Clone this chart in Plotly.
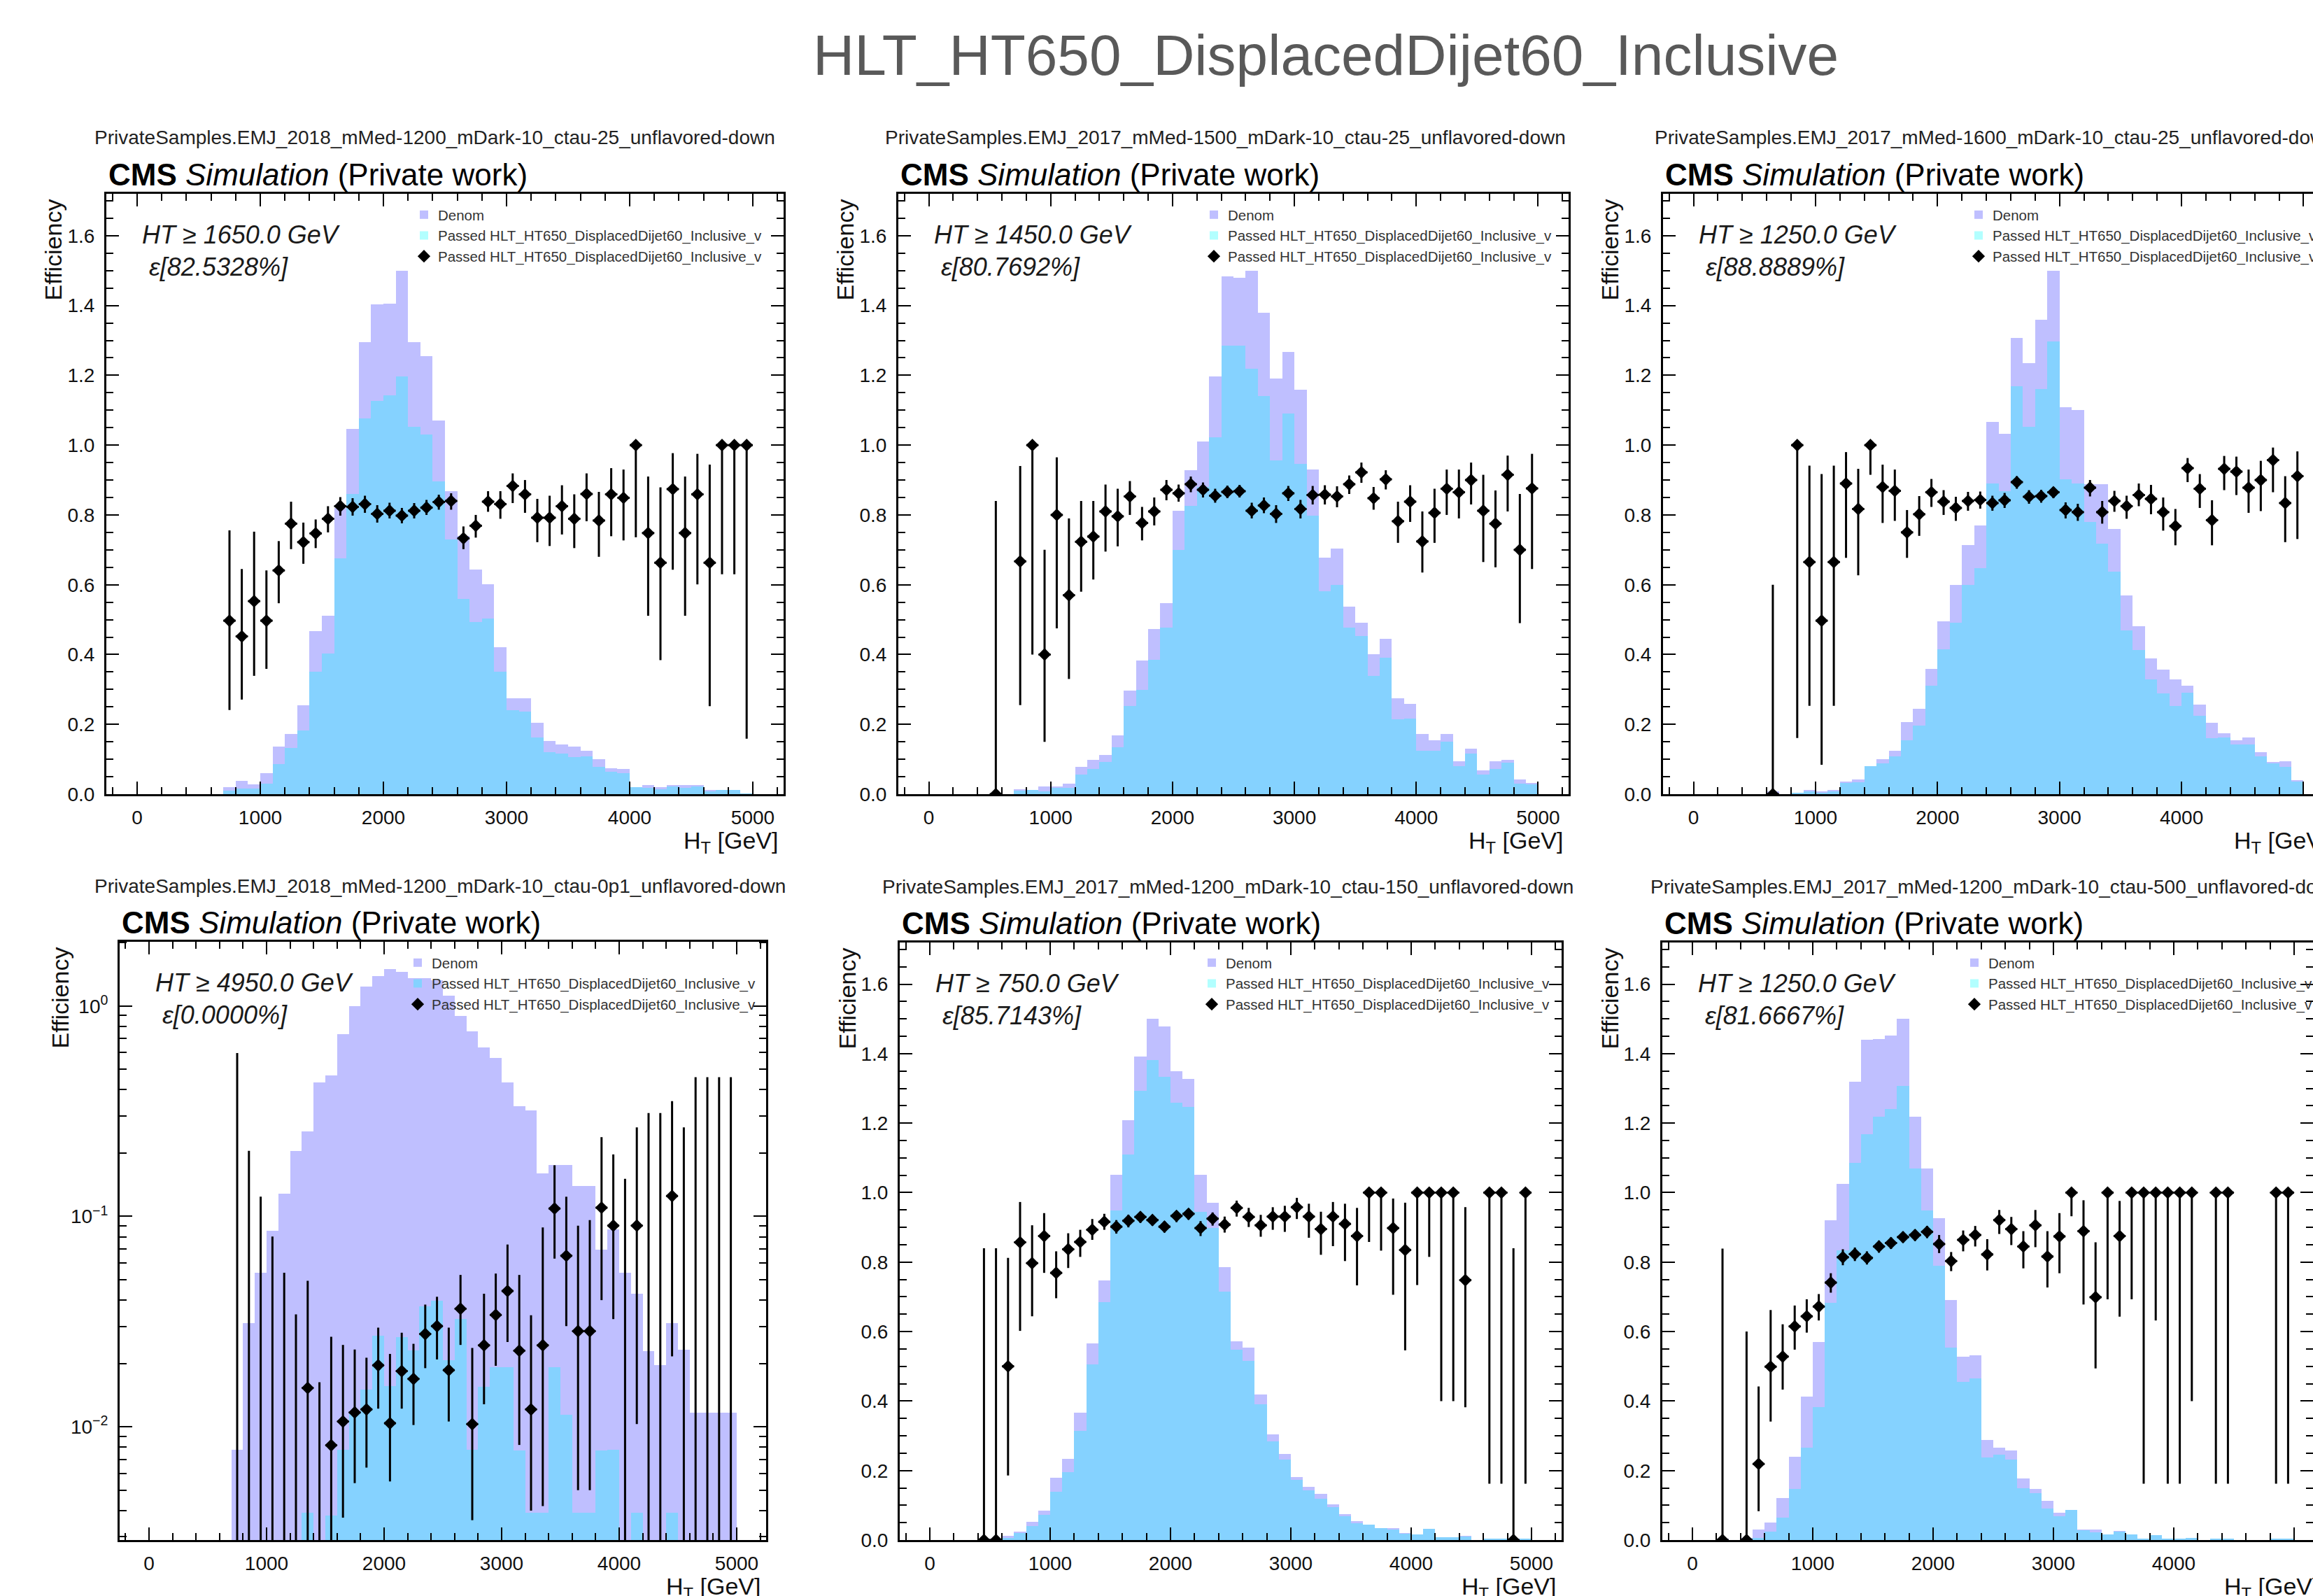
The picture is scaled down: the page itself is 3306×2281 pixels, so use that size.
import plotly.graph_objects as go

W, H = 3306, 2281
FONT = "Liberation Sans, Arial, Helvetica, sans-serif"

# ------------------------------------------------------------------ data
TITLE = "HLT_HT650_DisplacedDijet60_Inclusive"
TRIGGER_LABEL = "Passed HLT_HT650_DisplacedDijet60_Inclusive_v"
SAMPLE_NAMES = [
    "PrivateSamples.EMJ_2018_mMed-1200_mDark-10_ctau-25_unflavored-down",
    "PrivateSamples.EMJ_2017_mMed-1500_mDark-10_ctau-25_unflavored-down",
    "PrivateSamples.EMJ_2017_mMed-1600_mDark-10_ctau-25_unflavored-down",
    "PrivateSamples.EMJ_2018_mMed-1200_mDark-10_ctau-0p1_unflavored-down",
    "PrivateSamples.EMJ_2017_mMed-1200_mDark-10_ctau-150_unflavored-down",
    "PrivateSamples.EMJ_2017_mMed-1200_mDark-10_ctau-500_unflavored-down",
]
HT_THRESHOLDS = [1650.0, 1450.0, 1250.0, 4950.0, 750.0, 1250.0]
TOTAL_EFF = [82.5328, 80.7692, 88.8889, 0.0000, 85.7143, 81.6667]

# HT bins: 50 bins of 100 GeV from 0 to 5000 (bin centres)
BIN_CENTERS = [50, 150, 250, 350, 450, 550, 650, 750, 850, 950,
               1050, 1150, 1250, 1350, 1450, 1550, 1650, 1750, 1850, 1950,
               2050, 2150, 2250, 2350, 2450, 2550, 2650, 2750, 2850, 2950,
               3050, 3150, 3250, 3350, 3450, 3550, 3650, 3750, 3850, 3950,
               4050, 4150, 4250, 4350, 4450, 4550, 4650, 4750, 4850, 4950]
X_TICKS = [0, 1000, 2000, 3000, 4000, 5000]

DENOM_1 = [0, 0, 0, 0, 0, 0, 0, 0.021, 0.038, 0.029,
           0.061, 0.136, 0.172, 0.254, 0.468, 0.511, 0.82, 1.046, 1.296, 1.403,
           1.406, 1.5, 1.296, 1.254, 1.07, 0.868, 0.74, 0.643, 0.601, 0.421,
           0.275, 0.275, 0.204, 0.153, 0.142, 0.136, 0.125, 0.1, 0.074, 0.072,
           0.021, 0.026, 0.021, 0.026, 0.026, 0.026, 0.012, 0.012, 0.012, 0.003]
PASSED_1 = [0, 0, 0, 0, 0, 0, 0, 0.011, 0.017, 0.016,
            0.03, 0.087, 0.133, 0.183, 0.35, 0.403, 0.676, 0.861, 1.077, 1.127,
            1.142, 1.197, 1.052, 1.03, 0.896, 0.729, 0.56, 0.494, 0.504, 0.35,
            0.24, 0.236, 0.162, 0.121, 0.117, 0.107, 0.108, 0.078, 0.064, 0.061,
            0.021, 0.019, 0.014, 0.023, 0.019, 0.022, 0.008, 0.012, 0.012, 0.003]

DENOM_2 = [0, 0, 0, 0, 0, 0.003, 0, 0.015, 0.012, 0.023,
           0.023, 0.031, 0.078, 0.098, 0.113, 0.169, 0.296, 0.383, 0.474, 0.547,
           0.811, 0.929, 1.01, 1.197, 1.484, 1.479, 1.5, 1.379, 1.191, 1.266,
           1.159, 0.93, 0.677, 0.704, 0.537, 0.491, 0.4, 0.445, 0.274, 0.259,
           0.173, 0.155, 0.173, 0.094, 0.13, 0.069, 0.094, 0.098, 0.043, 0.032]
PASSED_2 = [0, 0, 0, 0, 0, 0, 0, 0.01, 0.012, 0.009,
            0.018, 0.018, 0.056, 0.072, 0.092, 0.135, 0.252, 0.298, 0.384, 0.477,
            0.699, 0.825, 0.881, 1.023, 1.285, 1.284, 1.218, 1.14, 0.956, 1.091,
            0.947, 0.797, 0.581, 0.6, 0.477, 0.453, 0.339, 0.39, 0.214, 0.217,
            0.125, 0.125, 0.151, 0.081, 0.117, 0.056, 0.073, 0.09, 0.03, 0.028]

DENOM_3 = [0, 0, 0, 0, 0, 0, 0.008, 0, 0.004, 0.012,
           0.008, 0.012, 0.037, 0.043, 0.081, 0.101, 0.124, 0.207, 0.244, 0.359,
           0.495, 0.6, 0.713, 0.769, 1.067, 1.032, 1.308, 1.235, 1.36, 1.5,
           1.108, 1.101, 0.888, 0.888, 0.759, 0.57, 0.481, 0.389, 0.357, 0.328,
           0.311, 0.257, 0.204, 0.175, 0.155, 0.163, 0.121, 0.092, 0.094, 0.04]
PASSED_3 = [0, 0, 0, 0, 0, 0, 0, 0, 0.004, 0.008,
            0.004, 0.008, 0.033, 0.035, 0.081, 0.089, 0.108, 0.155, 0.196, 0.311,
            0.415, 0.492, 0.599, 0.648, 0.89, 0.869, 1.169, 1.052, 1.161, 1.298,
            0.902, 0.89, 0.78, 0.717, 0.638, 0.47, 0.412, 0.329, 0.288, 0.252,
            0.29, 0.225, 0.16, 0.163, 0.143, 0.143, 0.109, 0.088, 0.078, 0.036]

DENOM_4 = [0, 0, 0, 0, 0, 0, 0, 0.0078, 0.0312, 0.054,
           0.0857, 0.128, 0.205, 0.254, 0.434, 0.466, 0.735, 1.0, 1.235, 1.39,
           1.5, 1.45, 1.36, 1.36, 1.32, 1.12, 0.896, 0.755, 0.634, 0.565,
           0.434, 0.335, 0.32, 0.16, 0.176, 0.176, 0.139, 0.139, 0.0695, 0.0865,
           0.0538, 0.0428, 0.0229, 0.0196, 0.031, 0.0232, 0.0117, 0.0117, 0.0117, 0.0117]
PASSED_4 = [0, 0, 0, 0, 0, 0, 0, 0, 0, 0,
            0, 0, 0, 0.0039, 0, 0.0038, 0.0078, 0.0117, 0.015, 0.027,
            0.0156, 0.0267, 0.023, 0.0375, 0.0397, 0.0208, 0.0326, 0.0078, 0.0155, 0.0192,
            0.0192, 0.0077, 0.0039, 0.0039, 0.0192, 0.0114, 0.0039, 0.0039, 0.0077, 0.0078,
            0, 0.0039, 0, 0, 0.0039, 0, 0, 0, 0, 0]

DENOM_5 = [0, 0, 0, 0, 0.004, 0.004, 0.013, 0.024, 0.052, 0.084,
           0.18, 0.234, 0.367, 0.566, 0.748, 1.052, 1.208, 1.391, 1.5, 1.479,
           1.349, 1.328, 1.051, 0.971, 0.786, 0.573, 0.554, 0.419, 0.304, 0.248,
           0.182, 0.154, 0.133, 0.102, 0.075, 0.055, 0.044, 0.035, 0.035, 0.021,
           0.017, 0.032, 0.009, 0.009, 0.013, 0, 0.004, 0.004, 0.004, 0.004]
PASSED_5 = [0, 0, 0, 0, 0, 0, 0.007, 0.021, 0.041, 0.073,
            0.138, 0.196, 0.315, 0.505, 0.685, 0.949, 1.11, 1.294, 1.381, 1.334,
            1.259, 1.247, 0.944, 0.898, 0.714, 0.548, 0.515, 0.39, 0.283, 0.231,
            0.174, 0.143, 0.119, 0.095, 0.068, 0.048, 0.044, 0.035, 0.031, 0.018,
            0.017, 0.032, 0.009, 0.009, 0.01, 0, 0.004, 0.004, 0, 0.004]

DENOM_6 = [0, 0, 0.0035, 0, 0.007, 0.031, 0.05, 0.121, 0.239, 0.412,
           0.569, 0.92, 1.025, 1.32, 1.44, 1.443, 1.452, 1.5, 1.218, 1.07,
           0.927, 0.69, 0.528, 0.531, 0.289, 0.266, 0.258, 0.177, 0.148, 0.112,
           0.079, 0.087, 0.031, 0.031, 0.017, 0.027, 0.017, 0.0035, 0.014, 0.0035,
           0.0035, 0.007, 0, 0.0035, 0.0035, 0, 0, 0, 0.0035, 0.0035]
PASSED_6 = [0, 0, 0, 0, 0, 0.007, 0.025, 0.064, 0.147, 0.265,
            0.382, 0.682, 0.834, 1.086, 1.169, 1.219, 1.241, 1.308, 1.069, 0.949,
            0.79, 0.554, 0.456, 0.466, 0.238, 0.245, 0.231, 0.15, 0.134, 0.091,
            0.069, 0.087, 0.028, 0.022, 0.017, 0.024, 0.017, 0.0035, 0.014, 0.0035,
            0.0035, 0.007, 0, 0.0035, 0.0035, 0, 0, 0, 0.0035, 0.0035]

# efficiency points: bin centre, value, lower and upper end of the error bar
EFF_X_1 = [750, 850, 950, 1050, 1150, 1250, 1350, 1450, 1550, 1650, 1750, 1850, 1950, 2050, 2150,
           2250, 2350, 2450, 2550, 2650, 2750, 2850, 2950, 3050, 3150, 3250, 3350, 3450, 3550, 3650,
           3750, 3850, 3950, 4050, 4150, 4250, 4350, 4450, 4550, 4650, 4750, 4850, 4950]
EFF_1 = [0.497, 0.452, 0.553, 0.497, 0.641, 0.775, 0.722, 0.747, 0.789, 0.825, 0.823, 0.831, 0.803, 0.812, 0.798,
         0.812, 0.821, 0.837, 0.84, 0.733, 0.769, 0.838, 0.831, 0.883, 0.859, 0.792, 0.792, 0.825, 0.789, 0.86,
         0.784, 0.859, 0.849, 1.0, 0.748, 0.663, 0.874, 0.748, 0.859, 0.663, 1.0, 1.0, 1.0]
EFF_LO_1 = [0.241, 0.271, 0.339, 0.359, 0.547, 0.702, 0.66, 0.705, 0.75, 0.798, 0.798, 0.806, 0.778, 0.79, 0.776,
            0.79, 0.8, 0.815, 0.815, 0.702, 0.735, 0.809, 0.789, 0.834, 0.806, 0.722, 0.711, 0.744, 0.705, 0.782,
            0.68, 0.739, 0.727, 0.736, 0.511, 0.384, 0.643, 0.511, 0.601, 0.252, 0.63, 0.63, 0.159]
EFF_HI_1 = [0.756, 0.645, 0.752, 0.641, 0.725, 0.838, 0.778, 0.787, 0.825, 0.851, 0.848, 0.855, 0.828, 0.835, 0.82,
            0.834, 0.843, 0.858, 0.862, 0.767, 0.8, 0.868, 0.868, 0.919, 0.9, 0.846, 0.855, 0.885, 0.859, 0.919,
            0.866, 0.934, 0.93, 1.0, 0.91, 0.879, 0.977, 0.91, 0.975, 0.944, 1.0, 1.0, 1.0]

EFF_X_2 = [550, 750, 850, 950, 1050, 1150, 1250, 1350, 1450, 1550, 1650, 1750, 1850, 1950, 2050,
           2150, 2250, 2350, 2450, 2550, 2650, 2750, 2850, 2950, 3050, 3150, 3250, 3350, 3450, 3550,
           3650, 3750, 3850, 3950, 4050, 4150, 4250, 4350, 4450, 4550, 4650, 4750, 4850, 4950]
EFF_2 = [0.0, 0.667, 1.0, 0.4, 0.8, 0.57, 0.723, 0.738, 0.81, 0.796, 0.853, 0.777, 0.81, 0.872, 0.862,
         0.888, 0.872, 0.855, 0.866, 0.868, 0.812, 0.827, 0.803, 0.862, 0.817, 0.857, 0.858, 0.853, 0.888, 0.922,
         0.848, 0.902, 0.782, 0.838, 0.724, 0.806, 0.875, 0.865, 0.9, 0.812, 0.775, 0.915, 0.7, 0.876]
EFF_LO_2 = [0.0, 0.255, 0.4, 0.15, 0.475, 0.33, 0.58, 0.615, 0.695, 0.71, 0.8, 0.727, 0.77, 0.842, 0.838,
            0.865, 0.85, 0.835, 0.848, 0.85, 0.79, 0.805, 0.777, 0.84, 0.79, 0.83, 0.83, 0.822, 0.86, 0.892,
            0.815, 0.873, 0.72, 0.78, 0.635, 0.72, 0.8, 0.79, 0.83, 0.665, 0.65, 0.81, 0.49, 0.645]
EFF_HI_2 = [0.84, 0.94, 1.0, 0.7, 0.965, 0.79, 0.84, 0.84, 0.887, 0.875, 0.897, 0.823, 0.85, 0.9, 0.887,
            0.91, 0.893, 0.875, 0.884, 0.886, 0.835, 0.85, 0.828, 0.883, 0.843, 0.883, 0.885, 0.882, 0.913, 0.95,
            0.88, 0.928, 0.838, 0.885, 0.81, 0.875, 0.93, 0.93, 0.95, 0.915, 0.87, 0.97, 0.86, 0.975]

EFF_X_3 = [650, 850, 950, 1050, 1150, 1250, 1350, 1450, 1550, 1650, 1750, 1850, 1950, 2050, 2150,
           2250, 2350, 2450, 2550, 2650, 2750, 2850, 2950, 3050, 3150, 3250, 3350, 3450, 3550, 3650,
           3750, 3850, 3950, 4050, 4150, 4250, 4350, 4450, 4550, 4650, 4750, 4850, 4950]
EFF_3 = [0.0, 1.0, 0.665, 0.497, 0.665, 0.89, 0.817, 1.0, 0.88, 0.869, 0.75, 0.802, 0.865, 0.838, 0.82,
         0.84, 0.843, 0.834, 0.842, 0.894, 0.852, 0.854, 0.865, 0.814, 0.808, 0.878, 0.808, 0.84, 0.825, 0.857,
         0.846, 0.808, 0.768, 0.934, 0.875, 0.785, 0.932, 0.924, 0.878, 0.9, 0.957, 0.834, 0.911]
EFF_LO_3 = [0.0, 0.161, 0.253, 0.084, 0.253, 0.677, 0.627, 0.915, 0.777, 0.783, 0.677, 0.74, 0.823, 0.8, 0.783,
            0.812, 0.818, 0.812, 0.82, 0.875, 0.832, 0.835, 0.848, 0.79, 0.783, 0.853, 0.775, 0.809, 0.789, 0.825,
            0.802, 0.755, 0.713, 0.894, 0.82, 0.713, 0.871, 0.857, 0.806, 0.811, 0.865, 0.722, 0.731]
EFF_HI_3 = [0.6, 1.0, 0.941, 0.917, 0.941, 0.98, 0.932, 1.0, 0.944, 0.93, 0.814, 0.854, 0.903, 0.871, 0.852,
            0.866, 0.867, 0.855, 0.863, 0.911, 0.871, 0.872, 0.88, 0.836, 0.832, 0.9, 0.84, 0.869, 0.855, 0.89,
            0.886, 0.85, 0.817, 0.963, 0.917, 0.842, 0.969, 0.967, 0.93, 0.955, 0.993, 0.911, 0.982]

EFF_X_4 = [750, 850, 950, 1050, 1150, 1250, 1350, 1450, 1550, 1650, 1750, 1850, 1950, 2050, 2150,
           2250, 2350, 2450, 2550, 2650, 2750, 2850, 2950, 3050, 3150, 3250, 3350, 3450, 3550, 3650,
           3750, 3850, 3950, 4050, 4150, 4250, 4350, 4450, 4550, 4650, 4750, 4850, 4950]
EFF_4 = [0, 0, 0, 0, 0, 0, 0.0153, 0, 0.00817, 0.0106, 0.0117, 0.0121, 0.0196, 0.0104, 0.0184,
         0.0169, 0.0276, 0.0301, 0.0186, 0.0364, 0.0103, 0.0244, 0.034, 0.0442, 0.023, 0.0121, 0.0244, 0.109, 0.065, 0.0285,
         0.0285, 0.11, 0.0904, 0, 0.0904, 0, 0, 0.125, 0, 0, 0, 0, 0]
EFF_LO_4 = [0, 0, 0, 0, 0, 0, 0.0004, 0, 0.0007, 0.0037, 0.0054, 0.0064, 0.0122, 0.0055, 0.0122,
            0.0102, 0.019, 0.0209, 0.0106, 0.0245, 0.0036, 0.0128, 0.0195, 0.0253, 0.0082, 0.004, 0.0042, 0.063, 0.0301, 0.005,
            0.005, 0.04, 0.0325, 0, 0.0103, 0, 0, 0.0216, 0, 0, 0, 0, 0]
EFF_HI_4 = [0.598, 0.205, 0.124, 0.0802, 0.054, 0.0342, 0.0494, 0.0163, 0.0268, 0.0245, 0.0233, 0.0213, 0.0296, 0.0222, 0.028,
            0.0248, 0.0381, 0.0415, 0.0296, 0.0527, 0.0237, 0.0429, 0.0535, 0.0735, 0.0527, 0.0339, 0.0886, 0.175, 0.124, 0.0904,
            0.096, 0.238, 0.197, 0.151, 0.265, 0.31, 0.31, 0.353, 0.265, 0.459, 0.459, 0.459, 0.459]

EFF_X_5 = [450, 550, 650, 750, 850, 950, 1050, 1150, 1250, 1350, 1450, 1550, 1650, 1750, 1850,
           1950, 2050, 2150, 2250, 2350, 2450, 2550, 2650, 2750, 2850, 2950, 3050, 3150, 3250, 3350,
           3450, 3550, 3650, 3750, 3850, 3950, 4050, 4150, 4250, 4350, 4450, 4650, 4750, 4850, 4950]
EFF_5 = [0, 0, 0.5, 0.857, 0.797, 0.875, 0.769, 0.837, 0.858, 0.893, 0.916, 0.902, 0.919, 0.93, 0.921,
         0.902, 0.933, 0.939, 0.898, 0.925, 0.908, 0.956, 0.93, 0.906, 0.931, 0.931, 0.958, 0.931, 0.895, 0.931,
         0.91, 0.875, 1.0, 1.0, 0.898, 0.835, 1.0, 1.0, 1.0, 1.0, 0.748, 1.0, 1.0, 0, 1.0]
EFF_LO_5 = [0, 0, 0.186, 0.602, 0.644, 0.769, 0.696, 0.783, 0.815, 0.864, 0.893, 0.882, 0.9, 0.913, 0.905,
            0.885, 0.915, 0.922, 0.875, 0.905, 0.885, 0.931, 0.901, 0.873, 0.893, 0.887, 0.924, 0.87, 0.821, 0.846,
            0.803, 0.733, 0.858, 0.833, 0.706, 0.546, 0.734, 0.815, 0.4, 0.4, 0.382, 0.162, 0.162, 0, 0.162]
EFF_HI_5 = [0.84, 0.84, 0.812, 0.973, 0.906, 0.941, 0.831, 0.883, 0.893, 0.924, 0.939, 0.921, 0.936, 0.945, 0.936,
            0.918, 0.948, 0.954, 0.918, 0.943, 0.931, 0.977, 0.956, 0.936, 0.958, 0.962, 0.985, 0.968, 0.945, 0.973,
            0.968, 0.956, 1.0, 1.0, 0.983, 0.971, 1.0, 1.0, 1.0, 1.0, 0.958, 1.0, 1.0, 0.84, 1.0]

EFF_X_6 = [250, 450, 550, 650, 750, 850, 950, 1050, 1150, 1250, 1350, 1450, 1550, 1650, 1750,
           1850, 1950, 2050, 2150, 2250, 2350, 2450, 2550, 2650, 2750, 2850, 2950, 3050, 3150, 3250,
           3350, 3450, 3550, 3650, 3750, 3850, 3950, 4050, 4150, 4350, 4450, 4850, 4950]
EFF_6 = [0, 0, 0.219, 0.499, 0.528, 0.615, 0.644, 0.672, 0.741, 0.814, 0.823, 0.812, 0.845, 0.855, 0.872,
         0.878, 0.887, 0.852, 0.803, 0.864, 0.878, 0.822, 0.921, 0.895, 0.845, 0.906, 0.816, 0.874, 1.0, 0.889,
         0.699, 1.0, 0.875, 1.0, 1.0, 1.0, 1.0, 1.0, 1.0, 1.0, 1.0, 1.0, 1.0]
EFF_LO_6 = [0, 0, 0.083, 0.341, 0.433, 0.548, 0.597, 0.632, 0.712, 0.791, 0.803, 0.793, 0.827, 0.838, 0.856,
            0.861, 0.869, 0.826, 0.774, 0.831, 0.845, 0.776, 0.881, 0.849, 0.782, 0.843, 0.727, 0.768, 0.932, 0.678,
            0.494, 0.693, 0.643, 0.693, 0.162, 0.632, 0.162, 0.162, 0.4, 0.162, 0.162, 0.162, 0.162]
EFF_HI_6 = [0.839, 0.6, 0.442, 0.662, 0.621, 0.675, 0.693, 0.708, 0.768, 0.837, 0.842, 0.831, 0.862, 0.871, 0.887,
            0.894, 0.904, 0.878, 0.829, 0.891, 0.904, 0.866, 0.95, 0.93, 0.889, 0.95, 0.889, 0.941, 1.0, 0.978,
            0.857, 1.0, 0.976, 1.0, 1.0, 1.0, 1.0, 1.0, 1.0, 1.0, 1.0, 1.0, 1.0]

DENOMS = [DENOM_1, DENOM_2, DENOM_3, DENOM_4, DENOM_5, DENOM_6]
PASSEDS = [PASSED_1, PASSED_2, PASSED_3, PASSED_4, PASSED_5, PASSED_6]
EFF_XS = [EFF_X_1, EFF_X_2, EFF_X_3, EFF_X_4, EFF_X_5, EFF_X_6]
EFFS = [EFF_1, EFF_2, EFF_3, EFF_4, EFF_5, EFF_6]
EFF_LOS = [EFF_LO_1, EFF_LO_2, EFF_LO_3, EFF_LO_4, EFF_LO_5, EFF_LO_6]
EFF_HIS = [EFF_HI_1, EFF_HI_2, EFF_HI_3, EFF_HI_4, EFF_HI_5, EFF_HI_6]

# ------------------------------------------------------------------ layout (pixels)
# l, r: axes frame (r may lie beyond the cropped picture), t, b: top/bottom
PANELS = [
    dict(l=152, r=1120, t=277, b=1135, log=False, mirror_y=True, sub_x=133, leg=(586, 287), ylab=76),
    dict(l=1284, r=2242, t=277, b=1135, log=False, mirror_y=True, sub_x=1263, leg=(1715, 287), ylab=76),
    dict(l=2377, r=3336, t=277, b=1135, log=False, mirror_y=False, sub_x=2363, leg=(2808, 287), ylab=76),
    dict(l=171, r=1095, t=1346, b=2201, log=True, mirror_y=True, sub_x=133, leg=(577, 1356), ylab=86),
    dict(l=1286, r=2232, t=1347, b=2201, log=False, mirror_y=True, sub_x=1259, leg=(1712, 1356), ylab=76),
    dict(l=2376, r=3322, t=1347, b=2201, log=False, mirror_y=True, sub_x=2357, leg=(2802, 1356), ylab=76),
]
X_MIN, X_MAX = -250, 5250
Y_LIN = [0, 1.72]
Y_LOG = [-2.538, 0.305]

DENOM_COLOR = "rgba(0,0,255,0.25)"
PASSED_COLOR = "rgba(0,255,255,0.3)"
TEXT = "#111111"


def fx(px):
    return px / W


def fy(py):
    return 1 - py / H


fig = go.Figure()
annotations = []
layout = {}

annotations.append(dict(text=TITLE, x=fx(1895), y=fy(78), xref="paper", yref="paper",
                        xanchor="center", yanchor="middle", showarrow=False,
                        font=dict(family=FONT, size=82, color="#595959")))

for k, p in enumerate(PANELS, start=1):
    xname = "x" if k == 1 else f"x{k}"
    yname = "y" if k == 1 else f"y{k}"
    lname = "legend" if k == 1 else f"legend{k}"
    is_log = p["log"]
    floor = 1e-6

    # visible part of the x frame
    right_vis = min(p["r"], W)
    scale = (p["r"] - p["l"]) / (X_MAX - X_MIN)
    x_hi = X_MIN + (right_vis - p["l"]) / scale

    bar_base = floor if is_log else None
    fig.add_trace(go.Bar(x=BIN_CENTERS, y=DENOMS[k - 1], width=100, base=bar_base,
                         marker=dict(color=DENOM_COLOR, line=dict(width=0)),
                         name="Denom", xaxis=xname, yaxis=yname, legend=lname,
                         hoverinfo="skip"))
    fig.add_trace(go.Bar(x=BIN_CENTERS, y=PASSEDS[k - 1], width=100, base=bar_base,
                         marker=dict(color=PASSED_COLOR, line=dict(width=0)),
                         name=TRIGGER_LABEL, xaxis=xname, yaxis=yname, legend=lname,
                         hoverinfo="skip"))

    eff = EFFS[k - 1]
    lo = EFF_LOS[k - 1]
    hi = EFF_HIS[k - 1]
    if is_log:
        y_pts = [e if e > 0 else floor for e in eff]
        lo_pts = [v if v > 0 else floor for v in lo]
    else:
        y_pts = list(eff)
        lo_pts = list(lo)
    plus = [h - y for h, y in zip(hi, y_pts)]
    minus = [y - l for y, l in zip(y_pts, lo_pts)]
    fig.add_trace(go.Scatter(x=EFF_XS[k - 1], y=y_pts, mode="markers",
                             marker=dict(symbol="diamond", size=14, color="black",
                                         line=dict(width=0)),
                             error_y=dict(type="data", symmetric=False, array=plus,
                                          arrayminus=minus, thickness=3, width=0,
                                          color="black"),
                             error_x=dict(type="constant", value=50, thickness=3,
                                          width=0, color="black"),
                             name=TRIGGER_LABEL, xaxis=xname, yaxis=yname,
                             legend=lname, hoverinfo="skip"))

    axis_common = dict(showline=True, linewidth=3, linecolor="black",
                       showgrid=False, zeroline=False, ticks="inside",
                       ticklen=18, tickwidth=2, tickcolor="black",
                       tickfont=dict(family=FONT, size=28, color=TEXT))
    layout["xaxis" if k == 1 else f"xaxis{k}"] = dict(
        domain=[fx(p["l"]), fx(right_vis)], anchor=yname,
        range=[X_MIN, x_hi], tickmode="linear", tick0=0, dtick=1000,
        minor=dict(tick0=0, dtick=200, ticks="inside", ticklen=10,
                   tickwidth=2, tickcolor="black"),
        mirror="allticks", ticklabelstandoff=6, **axis_common)

    ya = dict(domain=[fy(p["b"]), fy(p["t"])], anchor=xname,
              mirror="allticks" if p["mirror_y"] else False,
              ticklabelstandoff=8, **axis_common)
    if is_log:
        ya.update(type="log", range=Y_LOG, tickmode="array",
                  tickvals=[0.01, 0.1, 1],
                  ticktext=["10<sup>\u22122</sup>", "10<sup>\u22121</sup>", "10<sup>0</sup>"],
                  minor=dict(tickmode="array",
                             tickvals=[m * 10.0 ** e for e in (-3, -2, -1, 0) for m in range(2, 10)],
                             ticks="inside", ticklen=10, tickwidth=2, tickcolor="black"))
    else:
        ya.update(range=Y_LIN, tickmode="linear", tick0=0, dtick=0.2,
                  tickformat=".1f",
                  minor=dict(tick0=0, dtick=0.05, ticks="inside", ticklen=10,
                             tickwidth=2, tickcolor="black"))
    layout["yaxis" if k == 1 else f"yaxis{k}"] = ya

    lx, ly = p["leg"]
    layout[lname] = dict(x=fx(lx), y=fy(ly), xanchor="left", yanchor="top",
                         bgcolor="rgba(0,0,0,0)", borderwidth=0,
                         font=dict(family=FONT, size=20.5, color="#333333"),
                         itemwidth=30, tracegroupgap=0, traceorder="normal")

    # texts
    annotations += [
        dict(text=SAMPLE_NAMES[k - 1], x=fx(p["sub_x"]), y=fy(p["t"] - 80),
             xanchor="left", yanchor="middle",
             font=dict(family=FONT, size=28, color="#222222")),
        dict(text="<b>CMS</b> <i>Simulation</i> (Private work)", x=fx(p["l"] + 1),
             y=fy(p["t"] - 1), xanchor="left", yanchor="bottom",
             font=dict(family=FONT, size=44, color="black")),
        dict(text=f"<i>HT \u2265 {HT_THRESHOLDS[k - 1]:.1f} GeV</i>", x=fx(p["l"] + 49),
             y=fy(p["t"] + 58), xanchor="left", yanchor="middle",
             font=dict(family=FONT, size=36, color="#1a1a1a")),
        dict(text=f"<i>\u03b5[{TOTAL_EFF[k - 1]:.4f}%]</i>", x=fx(p["l"] + 59),
             y=fy(p["t"] + 104), xanchor="left", yanchor="middle",
             font=dict(family=FONT, size=36, color="#1a1a1a")),
        dict(text="Efficiency", x=fx(p["l"] - p["ylab"]), y=fy(p["t"] + 6),
             textangle=-90, xanchor="center", yanchor="top",
             font=dict(family=FONT, size=34, color=TEXT)),
        dict(text="H<sub>T</sub> [GeV]", x=fx(p["r"] - 6), y=fy(p["b"] + 68),
             xanchor="right", yanchor="middle",
             font=dict(family=FONT, size=34, color=TEXT)),
    ]

for a in annotations:
    a.setdefault("xref", "paper")
    a.setdefault("yref", "paper")
    a["showarrow"] = False

fig.update_layout(
    width=W, height=H,
    margin=dict(l=0, r=0, t=0, b=0, pad=0, autoexpand=False),
    paper_bgcolor="white", plot_bgcolor="rgba(0,0,0,0)",
    barmode="overlay", bargap=0,
    font=dict(family=FONT, color=TEXT),
    annotations=annotations,
    showlegend=True,
    **layout,
)

fig.write_html("out.html", include_plotlyjs=True, full_html=True,
               config={"displayModeBar": False},
               post_script="document.body.style.margin='0';document.body.style.overflow='hidden';")
